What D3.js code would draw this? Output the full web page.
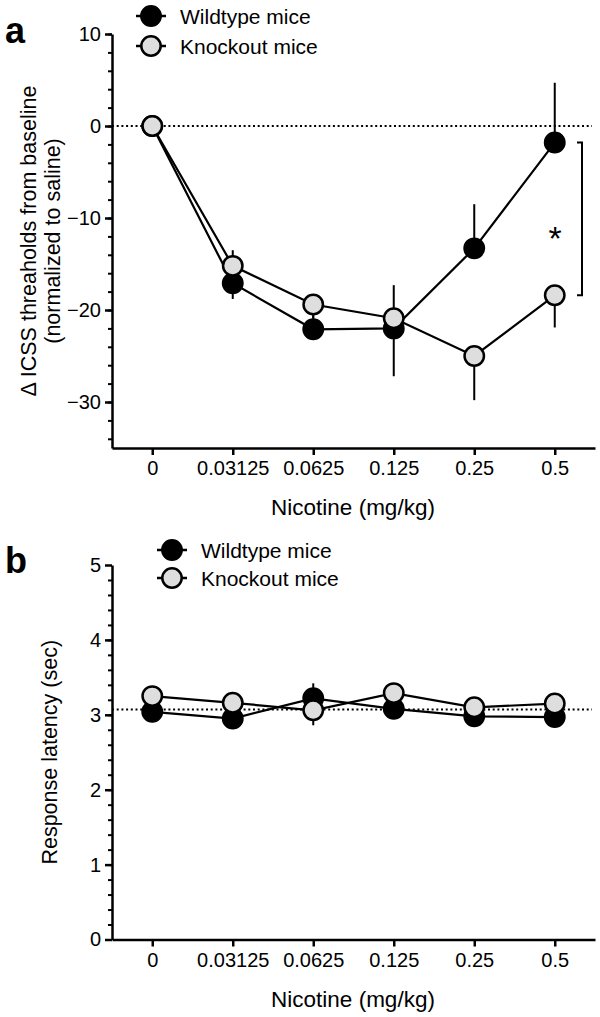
<!DOCTYPE html>
<html>
<head>
<meta charset="utf-8">
<script src="https://cdn.jsdelivr.net/npm/d3@7"></script>
<style>
  html, body { margin: 0; padding: 0; background: #fff; }
  svg { display: block; font-family: "Liberation Sans", Arial, Helvetica, sans-serif; }
</style>
</head>
<body>
<svg id="chart" width="600" height="1017"></svg>
<script>
// ---- data ----
const doses = ["0", "0.03125", "0.0625", "0.125", "0.25", "0.5"];
const seriesNames = ["Wildtype mice", "Knockout mice"];

// Panel a: delta ICSS thresholds (normalized to saline)
const icssWT    = [0, -17.1, -22.1, -22.0, -13.3, -1.8];
const icssWTErr = [0, 3.6, 1.5, 4.7, 4.8, 6.5];   // drawn upward
const icssKO    = [0, -15.2, -19.4, -20.9, -25.0, -18.4];
const icssKOErr = [0, 3.6, 1.5, 6.3, 4.8, 3.5];   // drawn downward
const icssTicks = [-30, -20, -10, 0, 10];
const icssRef = 0;

// Panel b: response latency (sec)
const latWT    = [3.04, 2.95, 3.22, 3.08, 2.98, 2.97];
const latWTErr = [0.08, 0.08, 0.2, 0.08, 0.08, 0.08];
const latKO    = [3.25, 3.16, 3.06, 3.29, 3.10, 3.15];
const latKOErr = [0.08, 0.08, 0.2, 0.08, 0.08, 0.08];
const latTicks = [0, 1, 2, 3, 4, 5];
const latRef = 3.07;

// ---- drawing ----
const svg = d3.select("#chart");
const GREY = "#dedede";
const R = 9.7;

const x = d3.scalePoint().domain(doses).range([112, 595]).padding(0.5);

function panel(opts) {
  const g = svg.append("g");
  const y = d3.scaleLinear().domain(opts.domain).range(opts.range);

  // reference dotted line
  g.append("line")
    .attr("x1", 112).attr("x2", 592)
    .attr("y1", y(opts.ref)).attr("y2", y(opts.ref))
    .attr("stroke", "#000").attr("stroke-width", 2)
    .attr("stroke-dasharray", "2,2.7");

  // minor y ticks
  const minorAxis = d3.axisLeft(y).tickValues(opts.minor).tickSize(4).tickSizeOuter(0).tickFormat("");
  g.append("g").attr("transform", "translate(112,0)").call(minorAxis)
    .call(s => s.select(".domain").remove())
    .call(s => s.selectAll("line").attr("stroke-width", 2));

  // major y axis
  const yAxis = d3.axisLeft(y).tickValues(opts.ticks).tickSize(7).tickSizeOuter(0)
    .tickPadding(4).tickFormat(d3.format("d"));
  g.append("g").attr("transform", "translate(112,0)").call(yAxis)
    .call(s => s.select(".domain").attr("stroke-width", 2.5))
    .call(s => s.selectAll("line").attr("stroke-width", 2.5))
    .call(s => s.selectAll("text").attr("font-size", 20).attr("fill", "#000")
      .attr("font-family", "Liberation Sans, Arial, sans-serif"));

  // x axis
  const xAxis = d3.axisBottom(x).tickSize(7).tickSizeOuter(0).tickPadding(6);
  g.append("g").attr("transform", `translate(0,${opts.range[0]})`).call(xAxis)
    .call(s => s.select(".domain").attr("stroke-width", 2.5))
    .call(s => s.selectAll("line").attr("stroke-width", 2.5))
    .call(s => s.selectAll("text").attr("font-size", 20).attr("fill", "#000")
      .attr("font-family", "Liberation Sans, Arial, sans-serif"));

  // x title
  g.append("text").attr("x", 353).attr("y", opts.range[0] + 67)
    .attr("text-anchor", "middle").attr("font-size", 22.5).text("Nicotine (mg/kg)");

  // y title
  const cy = (opts.range[0] + opts.range[1]) / 2;
  opts.ytitle.forEach((t, i) => {
    g.append("text")
      .attr("transform", `translate(${opts.ytitleX[i]},${cy}) rotate(-90)`)
      .attr("text-anchor", "middle").attr("font-size", 21.5).text(t);
  });

  // panel letter
  g.append("text").attr("x", 5).attr("y", opts.letterY)
    .attr("font-size", 36).attr("font-weight", "bold").text(opts.letter);

  // series
  const series = [
    {v: opts.wt, e: opts.wtErr, dir: 1, fill: "#000"},
    {v: opts.ko, e: opts.koErr, dir: -1, fill: GREY}
  ];
  const line = d3.line().x((d, i) => x(doses[i])).y(d => y(d));
  series.forEach(s => {
    const sg = g.append("g");
    sg.selectAll("line.err").data(s.v).join("line")
      .attr("class", "err")
      .attr("x1", (d, i) => x(doses[i])).attr("x2", (d, i) => x(doses[i]))
      .attr("y1", d => y(d))
      .attr("y2", (d, i) => y(d + s.dir * s.e[i]))
      .attr("stroke", "#000").attr("stroke-width", 2);
    sg.append("path").datum(s.v).attr("d", line)
      .attr("fill", "none").attr("stroke", "#000").attr("stroke-width", 2.2);
    sg.selectAll("circle").data(s.v).join("circle")
      .attr("cx", (d, i) => x(doses[i])).attr("cy", d => y(d)).attr("r", R)
      .attr("fill", s.fill).attr("stroke", "#000").attr("stroke-width", 2.5);
  });

  // legend
  seriesNames.forEach((name, i) => {
    const ly = opts.legendY[i];
    const lx = opts.legendX;
    g.append("line").attr("x1", lx - 15).attr("x2", lx + 15).attr("y1", ly).attr("y2", ly)
      .attr("stroke", "#000").attr("stroke-width", 2.5);
    g.append("circle").attr("cx", lx).attr("cy", ly).attr("r", R)
      .attr("fill", i === 0 ? "#000" : GREY).attr("stroke", "#000").attr("stroke-width", 2.5);
    g.append("text").attr("x", lx + 29).attr("y", ly + 8).attr("font-size", 21).text(name);
  });
  return {g, y};
}

const a = panel({
  domain: [-35, 10], range: [448, 34], ticks: icssTicks,
  minor: d3.range(-34, 10.1, 2), ref: icssRef,
  wt: icssWT, wtErr: icssWTErr, ko: icssKO, koErr: icssKOErr,
  ytitle: ["\u0394 ICSS threaholds from baseline", "(normalized to saline)"],
  ytitleX: [36, 60], letter: "a", letterY: 43,
  legendX: 151, legendY: [16, 46]
});

// significance bracket at 0.5 mg/kg
const last = doses.length - 1;
const bx = 582;
const bTop = a.y(icssWT[last]), bBot = a.y(icssKO[last]);
a.g.append("path")
  .attr("d", `M${bx - 5},${bTop} H${bx} V${bBot} H${bx - 5}`)
  .attr("fill", "none").attr("stroke", "#000").attr("stroke-width", 2);
a.g.append("text").attr("x", 555).attr("y", (bTop + bBot) / 2 + 31)
  .attr("text-anchor", "middle").attr("font-size", 34).text("*");

panel({
  domain: [0, 5], range: [939.5, 565], ticks: latTicks,
  minor: d3.range(0.2, 5, 0.2), ref: latRef,
  wt: latWT, wtErr: latWTErr, ko: latKO, koErr: latKOErr,
  ytitle: ["Response latency (sec)"],
  ytitleX: [57], letter: "b", letterY: 573,
  legendX: 172, legendY: [550, 578]
});
</script>
</body>
</html>
